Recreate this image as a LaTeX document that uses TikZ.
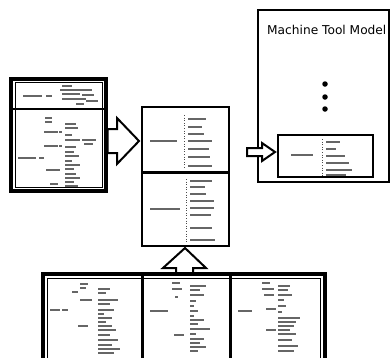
\documentclass[tikz,border=0pt]{standalone}
\usepackage{fontspec}
\newfontfamily\mtfont{DejaVu Sans}
\tikzset{
  frame/.style={draw=black,line width=3.2pt},
  thinframe/.style={draw=black,line width=1.1pt},
  blockarrow/.style={draw=black,line width=2pt,fill=white,line join=miter},
  ftxt/.style={fill=black!60},
  bracket/.style={draw=black!70,line width=0.6pt,dotted},
  dotmark/.style={circle,fill=black,inner sep=0pt,minimum size=5.5pt}
}
\newcommand\fakeline[3]{\fill[ftxt] (#1,#2-0.9) rectangle (#3,#2+0.9);}
\begin{document}
\begin{tikzpicture}[x=1pt,y=-1pt]
\useasboundingbox (0,0) rectangle (391,357);
\fill[white] (0,0) rectangle (391,357);

% ---------- Machine tool model box ----------
\draw[line width=1.8pt] (258,10) rectangle (389,182);
\draw[line width=2.6pt] (258,10) -- (258,182);
\node[font=\mtfont\fontsize{12.2}{14}\selectfont,anchor=base west,inner sep=0pt] (mtm) at (267,34) {Machine Tool Model};
\node[dotmark] (d1) at (325,84) {};
\node[dotmark] (d2) at (325,97) {};
\node[dotmark] (d3) at (325,109) {};
\draw[line width=2pt,fill=white] (278,135) rectangle (373,177);
\coordinate (inbox) at (278,152);
% inner contents
\fakeline{291}{155}{313}
\draw[bracket] (322,139) -- (322,176);
\foreach \yy/\xe in {142/340,149/336,156/345,163/349,170/352,175/346}{\fakeline{326}{\yy}{\xe}}
% arrow into inner box
\draw[blockarrow] (247,148) -- (262,148) -- (262,143) -- (275,152) -- (262,161) -- (262,156) -- (247,156) -- cycle;

% ---------- Left box ----------
\draw[frame] (11,79) rectangle (106,191);
\draw[thinframe] (15.5,82.5) rectangle (102.5,187.5);
\draw[line width=2.6pt] (11,109) -- (106,109);
% header contents
\fakeline{23}{96}{42}\fakeline{46}{96}{52}
\fakeline{62}{86}{72}\fakeline{60}{90}{92}\fakeline{62}{94}{80}
\fakeline{82}{95}{94}\fakeline{62}{99}{86}\fakeline{86}{101}{98}\fakeline{76}{104}{84}
% body contents
\fakeline{18}{158}{36}\fakeline{39}{158}{44}
\fakeline{45}{118}{52}\fakeline{45}{122}{52}
\fakeline{44}{132}{58}\fakeline{59}{132}{62}
\fakeline{44}{146}{58}\fakeline{59}{146}{62}
\fakeline{46}{170}{60}\fakeline{50}{184}{58}
\foreach \yy/\xe in {124/76,128/78,135/72,140/80,147/76,152/74,156/79,161/72,165/80,169/74,174/76,178/80,182/74,186/78}{\fakeline{65}{\yy}{\xe}}
\fakeline{82}{140}{96}\fakeline{84}{144}{93}

% arrow left -> middle
\draw[blockarrow] (107.5,129) -- (117,129) -- (117,118) -- (139,141) -- (117,164) -- (117,153) -- (107.5,153) -- cycle;

% ---------- Middle box ----------
\draw[line width=2.6pt] (142,107) rectangle (229,246);
\draw[line width=3pt] (142,172) -- (229,172);
\fakeline{150}{141}{177}
\draw[bracket] (184,115) -- (184,168);
\foreach \yy/\xe in {119/206,127/202,134/204,141/212,149/209,157/210,166/212}{\fakeline{188}{\yy}{\xe}}
\fakeline{150}{209}{180}
\draw[bracket] (186,179) -- (186,243);
\foreach \yy/\xe in {181/212,187/205,194/206,201/214,208/214,215/211,228/212,240/215}{\fakeline{190}{\yy}{\xe}}

% up arrow bottom -> middle
\draw[blockarrow] (176,273) -- (176,268) -- (163,268) -- (185,248) -- (206,268) -- (193,268) -- (193,273);

% ---------- Bottom box ----------
\draw[frame] (43,274) rectangle (325,360);
\draw[thinframe] (47.5,278.5) rectangle (320.5,360);
\draw[line width=3pt] (142,274) -- (142,360);
\draw[line width=3pt] (230,274) -- (230,360);
% panel 1
\fakeline{50}{310}{60}\fakeline{62}{310}{68}
\fakeline{80}{284}{88}\fakeline{80}{288}{86}
\fakeline{72}{292}{78}\fakeline{80}{300}{92}\fakeline{78}{326}{88}
\foreach \yy/\xe in {289/110,293/106,300/118,304/110,310/114,314/104,318/112,322/106,326/112,330/116,335/110,340/118,345/112,349/120,353/114}{\fakeline{98}{\yy}{\xe}}
% panel 2
\fakeline{150}{311}{168}
\fakeline{172}{283}{180}\fakeline{172}{289}{182}\fakeline{175}{297}{178}
\fakeline{174}{335}{184}
\foreach \yy/\xe in {286/206,290/200,295/204,301/196,306/194,311/198,316/194,320/204,324/198,329/210,334/196,339/204,343/200,347/206,351/198}{\fakeline{190}{\yy}{\xe}}
% panel 3
\fakeline{238}{311}{252}
\fakeline{262}{283}{270}\fakeline{262}{289}{274}\fakeline{264}{295}{274}
\fakeline{266}{309}{276}\fakeline{266}{330}{276}
\foreach \yy/\xe in {286/290,290/288,295/292,300/284,306/286,312/282,318/300,322/296,326/294,330/290,334/296,340/292,346/298,351/294}{\fakeline{278}{\yy}{\xe}}
\end{tikzpicture}
\end{document}
